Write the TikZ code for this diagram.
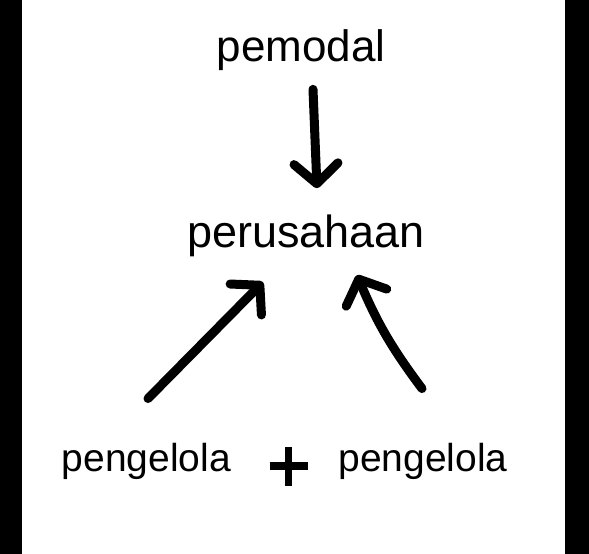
\documentclass[tikz,border=0pt]{standalone}
\usepackage{fontspec}
\setmainfont{Liberation Sans}
\usetikzlibrary{arrows.meta}

\tikzset{
  word/.style={inner sep=0pt, anchor=base},
  hand/.style={line width=9pt, line cap=round, line join=round,
    -{Straight Barb[length=20pt,width=44pt,round]}},
}

\begin{document}
\begin{tikzpicture}[x=1pt,y=-1pt]
    \pgfmathsetmacro{\W}{589};
    \pgfmathsetmacro{\H}{554};
    \pgfmathsetmacro{\b}{22};
    \useasboundingbox (0,0) rectangle (\W,\H);
    % black side bars
    \fill (0,0) rectangle (\b,\H);
    \fill (\W-24,0) rectangle (\W,\H);
    % words
    \node[word, font=\fontsize{44}{50}\selectfont] (pemodal) at (301,61) {pemodal};
    \node[word, font=\fontsize{45}{52}\selectfont] (perusahaan) at (306,247) {perusahaan};
    \node[word, font=\fontsize{39}{46}\selectfont] (pengelolaA) at (146.5,471) {pengelola};
    \node[word, font=\fontsize{39}{46}\selectfont] (pengelolaB) at (423,471) {pengelola};
    \coordinate (plus) at (288.5,466);
    \draw[line width=7.5pt] ([xshift=-19pt]plus) -- ([xshift=19pt]plus);
    \draw[line width=7.5pt] ([yshift=19.5pt]plus) -- ([yshift=-19.5pt]plus);
    % arrows
    \draw[hand] ([xshift=12pt,yshift=-19pt]pemodal.south) -- ([xshift=11pt,yshift=26pt]perusahaan.north);
    \draw[hand] ([xshift=1.5pt,yshift=44pt]pengelolaA.north) -- ([xshift=-43pt,yshift=-25.5pt]perusahaan.south);
    \draw[hand] ([xshift=-1pt,yshift=54pt]pengelolaB.north) to[bend left=7] ([xshift=51pt,yshift=-18.5pt]perusahaan.south);
\end{tikzpicture}
\end{document}
